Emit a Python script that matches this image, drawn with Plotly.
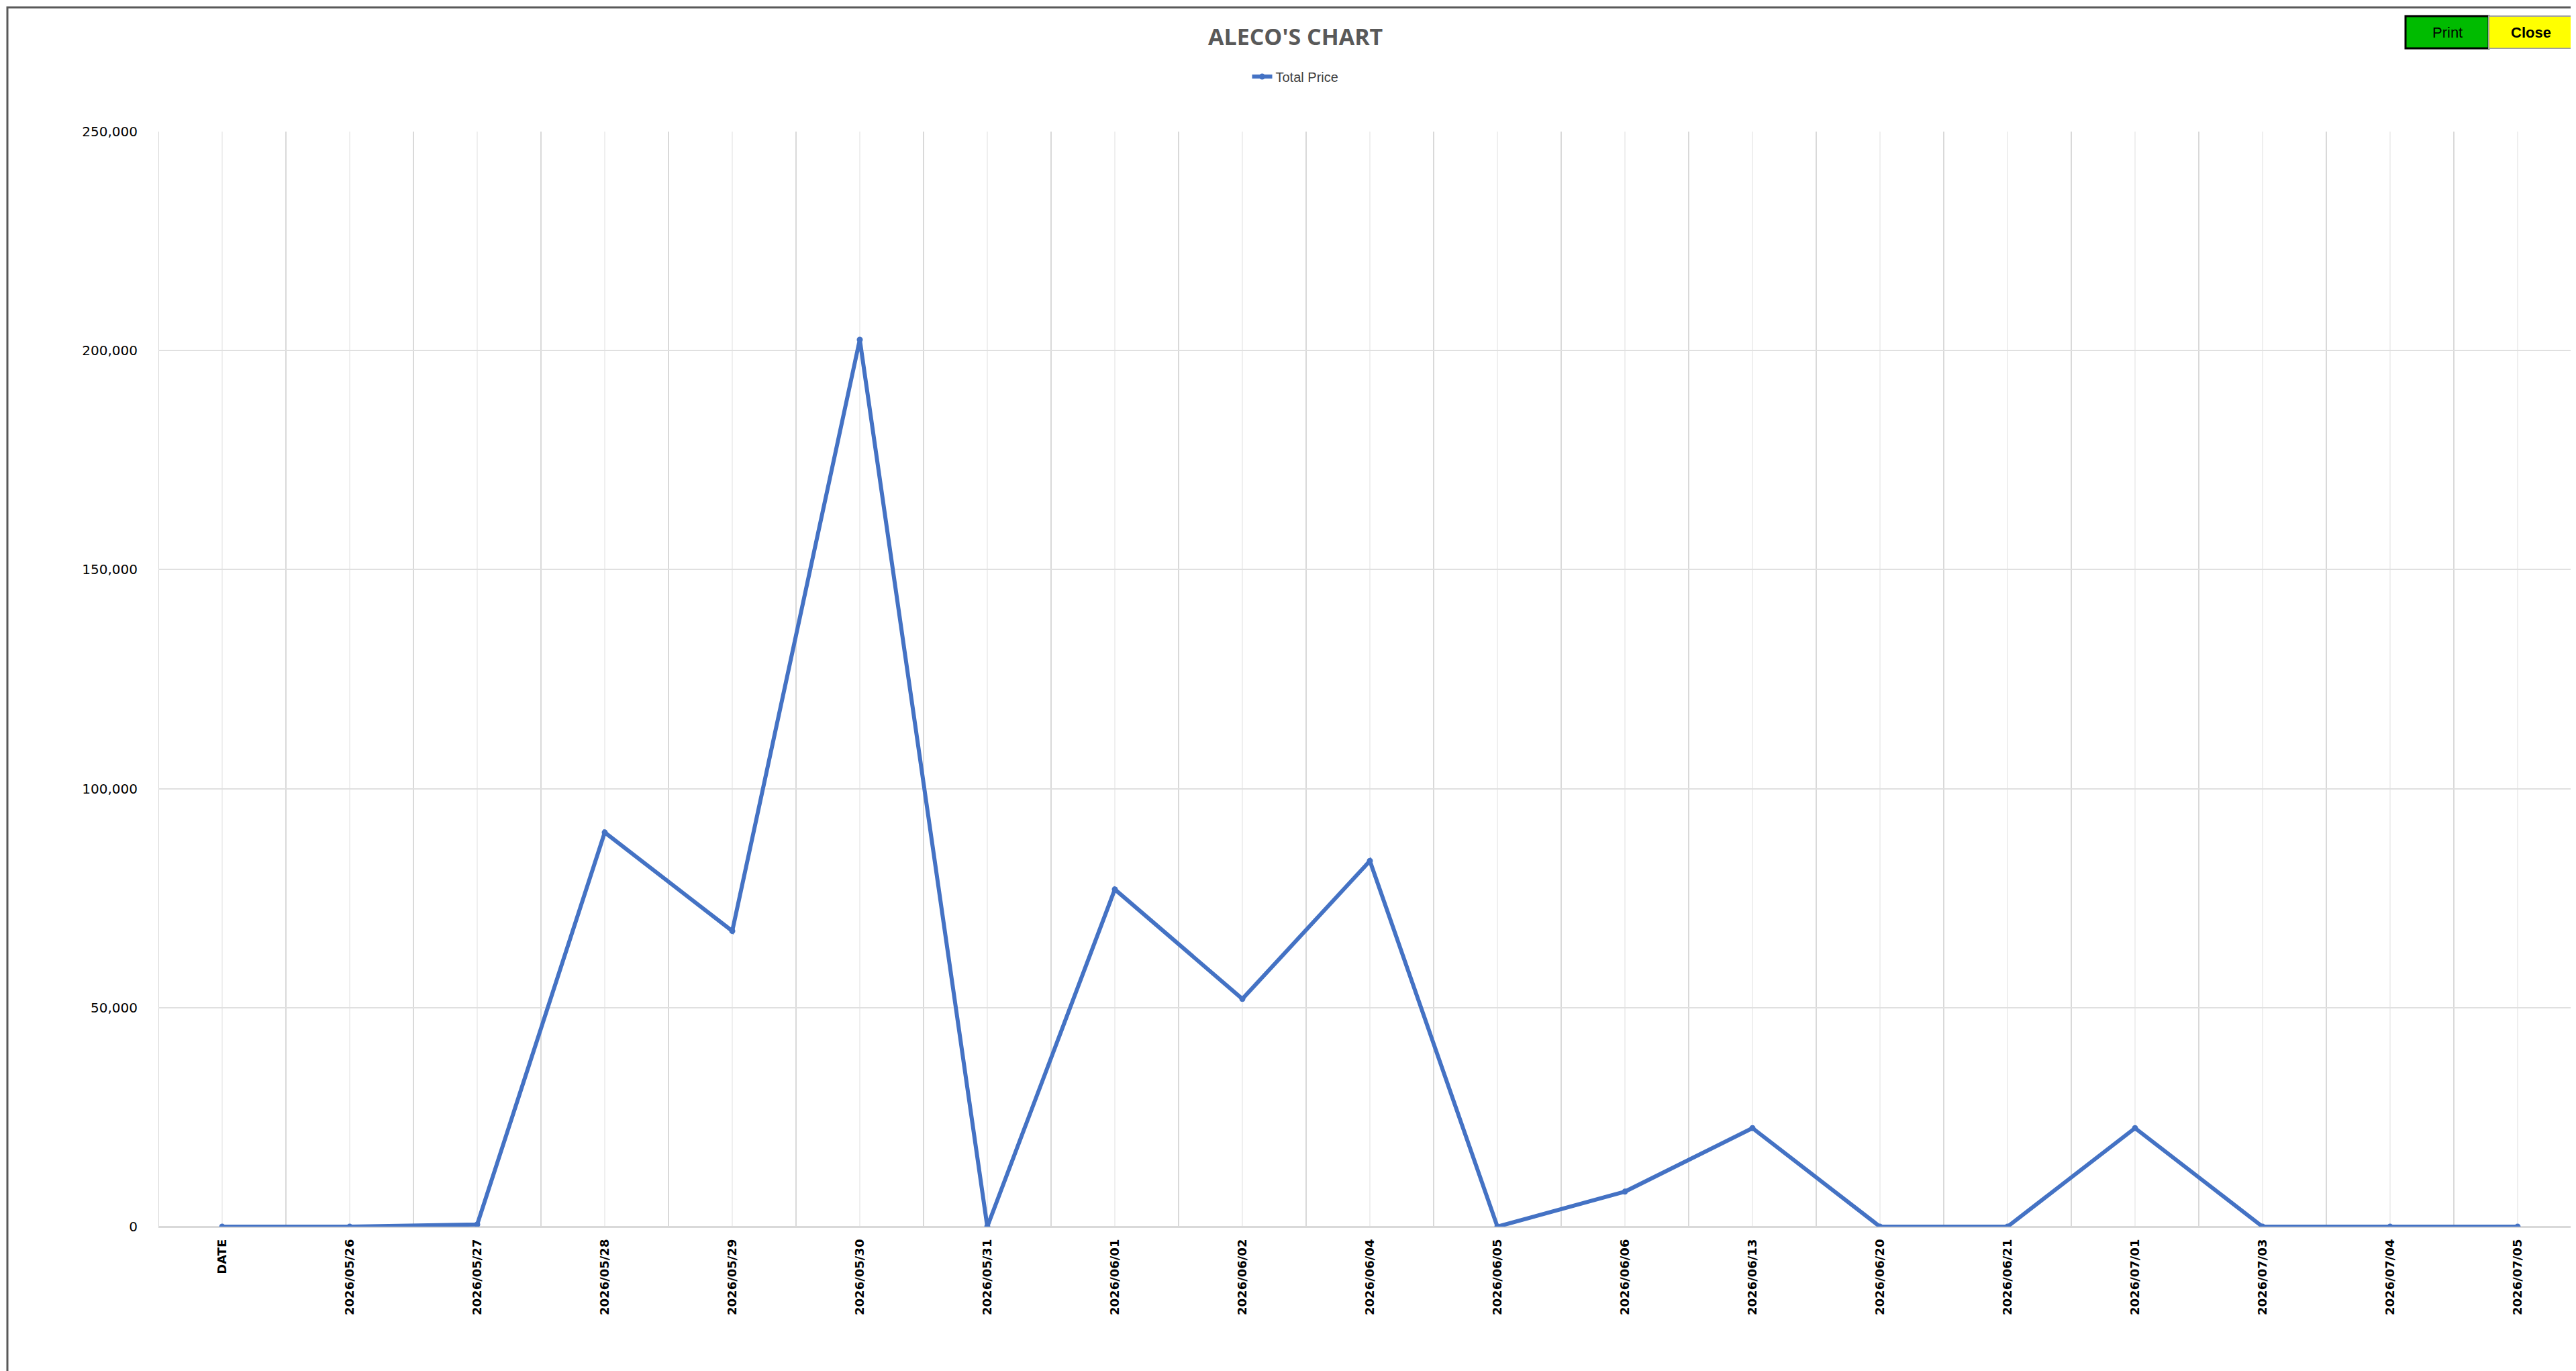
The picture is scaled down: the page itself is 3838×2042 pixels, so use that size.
import plotly.graph_objects as go

categories = ["DATE", "2026/05/26", "2026/05/27", "2026/05/28", "2026/05/29", "2026/05/30",
              "2026/05/31", "2026/06/01", "2026/06/02", "2026/06/04", "2026/06/05", "2026/06/06",
              "2026/06/13", "2026/06/20", "2026/06/21", "2026/07/01", "2026/07/03", "2026/07/04",
              "2026/07/05"]
total_price = [0, 0, 500, 90000, 67500, 202500, 0, 77000, 52000, 83500, 0, 8000,
               22500, 0, 0, 22500, 0, 0, 0]
ytick_vals = [0, 50000, 100000, 150000, 200000, 250000]

W, H = 3838, 2042
L, R, T, B = 228, 0, 188, 223
pw, ph = W - L - R, H - T - B
def px(x): return (x - L) / pw
def py(y): return (H - B - y) / ph

fig = go.Figure(go.Scatter(
    x=list(range(len(categories))), y=total_price, mode="lines+markers", name="Total Price",
    line=dict(color="#4472C4", width=6), marker=dict(size=9, color="#4472C4")))

shapes = []
for i in range(len(categories) + 1):
    shapes.append(dict(type="line", xref="x", yref="paper", x0=i - 0.5, x1=i - 0.5, y0=0, y1=1,
                       line=dict(color="#d9d9d9", width=2), layer="below"))
# outer frame
shapes.append(dict(type="rect", xref="paper", yref="paper", x0=px(3), x1=px(3835), y0=py(2039), y1=py(3),
                   line=dict(color="#595959", width=3), layer="above"))
shapes.append(dict(type="rect", xref="paper", yref="paper", x0=px(3576), x1=px(3700), y0=py(64), y1=py(16),
                   fillcolor="#00BB00", line=dict(color="black", width=3)))
shapes.append(dict(type="rect", xref="paper", yref="paper", x0=px(3700), x1=px(3826), y0=py(64), y1=py(16),
                   fillcolor="#FFFF00", line=dict(color="#a0a0a0", width=2)))

annotations = [
    dict(text="<b>ALECO'S CHART</b>", xref="paper", yref="paper", x=px(1922), y=py(46), showarrow=False,
         font=dict(size=34, color="#595959", family="Open Sans"), xanchor="center", yanchor="middle"),
    dict(text="Print", xref="paper", yref="paper", x=px(3638), y=py(41), showarrow=False,
         font=dict(size=22, color="black", family="Liberation Sans Narrow, Arial"), xanchor="center", yanchor="middle"),
    dict(text="<b>Close</b>", xref="paper", yref="paper", x=px(3763), y=py(41), showarrow=False,
         font=dict(size=22, color="black", family="Liberation Sans Narrow, Arial"), xanchor="center", yanchor="middle"),
]

fig.update_layout(
    width=W, height=H, margin=dict(l=L, r=R, t=T, b=B),
    paper_bgcolor="white", plot_bgcolor="white",
    shapes=shapes, annotations=annotations,
    showlegend=True,
    legend=dict(orientation="h", x=px(1922), y=py(106), xanchor="center", yanchor="middle",
                font=dict(size=20, color="#404040", family="Liberation Sans Narrow, Arial")),
    xaxis=dict(tickmode="array", tickvals=list(range(len(categories))),
               ticktext=["<b>" + c + "</b>" for c in categories],
               range=[-0.5, len(categories) - 0.5], tickangle=-90,
               showgrid=True, gridcolor="#efefef", gridwidth=2, zeroline=False, showline=False,
               tickfont=dict(size=18, color="black", family="DejaVu Sans"), ticks="",
               ticklabelstandoff=14),
    yaxis=dict(range=[0, 250000], tickvals=ytick_vals, tickformat=",", showgrid=True,
               gridcolor="#e0e0e0", gridwidth=2, zeroline=True, zerolinecolor="#d9d9d9", zerolinewidth=3,
               tickfont=dict(size=20, color="black", family="DejaVu Sans"),
               tickprefix="<b>", ticksuffix="</b>", ticks="", ticklabelstandoff=30),
)
fig.write_html("out.html")
